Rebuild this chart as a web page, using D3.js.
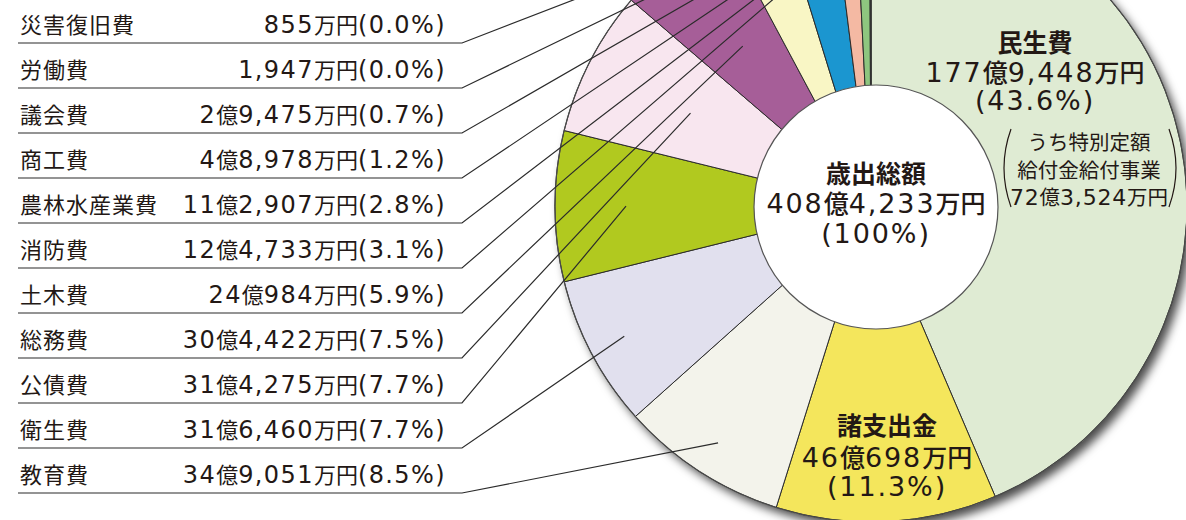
<!DOCTYPE html>
<html>
<head>
<meta charset="utf-8">
<script src="https://cdn.jsdelivr.net/npm/d3@7"></script>
<style>
html, body { margin: 0; padding: 0; background: #fff; }
svg { display: block; }
</style>
</head>
<body>
<svg id="chart" width="1186" height="520"></svg>
<script>
// 歳出決算額（単位：万円）、時計回りの順
const categories = ["民生費", "諸支出金", "教育費", "衛生費", "公債費", "総務費", "土木費",
  "消防費", "農林水産業費", "商工費", "議会費", "労働費", "災害復旧費"];
const amounts = [1779448, 460698, 349051, 316460, 314275, 304422, 240984,
  124733, 112907, 48978, 29475, 1947, 855];

// 民生費のうち特別定額給付金給付事業
const subNote = ["うち特別定額", "給付金給付事業"];
const subAmount = 723524;

const centerTitle = "歳出総額";

// 左側の一覧（上から）
const listOrder = ["災害復旧費", "労働費", "議会費", "商工費", "農林水産業費", "消防費",
  "土木費", "総務費", "公債費", "衛生費", "教育費"];

// 見た目
const palette = ["#dfebd3", "#f4e65c", "#f3f3eb", "#e1e0ee", "#b1c91f", "#f8e6ef", "#a65e98",
  "#f9f6c5", "#1b96d0", "#f4b9a3", "#8ec67f", "#e5e5e5", "#ffffff"];
// 引出線の先端の半径（listOrder 順）
const leaderRadius = [321, 316, 304, 287, 260, 232, 205, 203, 245, 279, 282];

const cx = 871, cy = 206, R = 316;
const holeX = 876, holeY = 207, holeR = 122;
const ink = "#231815";
const jp = '"Noto Sans CJK JP", "Noto Sans", sans-serif';
const num = '"DejaVu Sans", sans-serif';

const total = d3.sum(amounts);
const fmtComma = d3.format(",");
const fmtPct = d3.format(".1f");
function yen(v) {
  const oku = Math.floor(v / 10000), man = v % 10000;
  return (oku ? oku + "億" : "") + fmtComma(man) + "万円";
}
function pct(v) { return "(" + fmtPct(v / total * 100) + "%)"; }

const svg = d3.select("#chart");
const defs = svg.append("defs");
const shadow = defs.append("filter").attr("id", "shadow")
  .attr("x", "-20%").attr("y", "-20%").attr("width", "140%").attr("height", "140%");
shadow.append("feDropShadow").attr("dx", 5).attr("dy", 6)
  .attr("stdDeviation", 5).attr("flood-color", "#000").attr("flood-opacity", 0.7);

// 文字列を漢字部分と数字部分に分けて描く
function rich(sel, str, o) {
  const t = sel.append("text")
    .attr("x", o.x).attr("y", o.y)
    .attr("text-anchor", o.anchor || "middle")
    .attr("fill", ink)
    .attr("font-family", jp)
    .attr("font-size", o.size)
    .attr("font-weight", o.weight || 400);
  str.split(/([0-9.,%()]+)/).filter(s => s.length).forEach(s => {
    const ts = t.append("tspan").text(s);
    if (/^[0-9.,%()]+$/.test(s)) {
      ts.attr("font-family", num).attr("font-size", o.numSize)
        .attr("letter-spacing", o.ls).attr("font-weight", 400);
    }
  });
  return t;
}

const color = d3.scaleOrdinal().domain(categories).range(palette);
const pie = d3.pie().sort(null).value(d => d).startAngle(0).endAngle(2 * Math.PI);
const arcs = pie(amounts);
const arc = d3.arc().innerRadius(0).outerRadius(R);

const g = svg.append("g").attr("transform", `translate(${cx},${cy})`);

g.append("circle").attr("r", R).attr("fill", "#dfebd3").attr("filter", "url(#shadow)");

g.selectAll("path.slice")
  .data(arcs)
  .join("path")
  .attr("class", "slice")
  .attr("d", arc)
  .attr("fill", (d, i) => color(categories[i]))
  .attr("stroke", "#2b2b2b")
  .attr("stroke-width", 1)
  .attr("stroke-linejoin", "round");

g.append("circle").attr("r", R).attr("fill", "none")
  .attr("stroke", "#4a4a4a").attr("stroke-width", 1.2);

// 左の一覧と引出線
const rowY = d3.scalePoint().domain(listOrder).range([43, 493]);
const lineX0 = 18, lineX1 = 462, valueX = 446;

listOrder.forEach((name, k) => {
  const i = categories.indexOf(name);
  const a = arcs[i];
  const mid = (a.startAngle + a.endAngle) / 2;
  const r = leaderRadius[k];
  const ex = cx + r * Math.sin(mid), ey = cy - r * Math.cos(mid);
  const yu = rowY(name);

  svg.append("path")
    .attr("d", d3.line()([[lineX0, yu], [lineX1, yu], [ex, ey]]))
    .attr("fill", "none")
    .attr("stroke", "#2b2b2b")
    .attr("stroke-width", 1.2);

  svg.append("text")
    .attr("x", 20).attr("y", yu - 10)
    .attr("fill", ink)
    .attr("font-family", jp)
    .attr("font-size", 22)
    .attr("letter-spacing", 1)
    .text(name);

  rich(svg, yen(amounts[i]) + pct(amounts[i]), {
    x: valueX, y: yu - 10, anchor: "end", size: 22, numSize: 24, ls: 1.4
  });
});

// 中央の白円
svg.append("circle")
  .attr("cx", holeX).attr("cy", holeY).attr("r", holeR)
  .attr("fill", "#fff").attr("stroke", "#555").attr("stroke-width", 1.2);

const big = { size: 25, numSize: 27, ls: 1.9, weight: 500 };

svg.append("text").attr("x", holeX).attr("y", 183).attr("text-anchor", "middle")
  .attr("fill", ink).attr("font-family", jp).attr("font-size", 25).attr("font-weight", 700)
  .text(centerTitle);
rich(svg, yen(total), Object.assign({ x: holeX, y: 213 }, big));
rich(svg, "(" + fmtPct(100).replace(".0", "") + "%)", Object.assign({ x: holeX, y: 243 }, big));

// 民生費
const mx = cx + 164;
svg.append("text").attr("x", mx).attr("y", cy - 154).attr("text-anchor", "middle")
  .attr("fill", ink).attr("font-family", jp).attr("font-size", 25).attr("font-weight", 700)
  .text(categories[0]);
rich(svg, yen(amounts[0]), Object.assign({ x: mx, y: cy - 124 }, big));
rich(svg, pct(amounts[0]), Object.assign({ x: mx, y: cy - 96 }, big));

// うち特別定額給付金給付事業
const sx = cx + 218;
subNote.forEach((s, j) => {
  svg.append("text").attr("x", sx).attr("y", cy - 56 + j * 28).attr("text-anchor", "middle")
    .attr("fill", ink).attr("font-family", jp).attr("font-size", 20.5)
    .text(s);
});
rich(svg, yen(subAmount), { x: sx, y: cy - 1, size: 20.5, numSize: 22, ls: 0.8 });

const bTop = cy - 77, bBot = cy + 1, bMid = (bTop + bBot) / 2;
[[-78, -85], [80, 87]].forEach(([e, m]) => {
  svg.append("path")
    .attr("d", `M${sx + e},${bTop} Q${sx + m + (m - e)},${bMid} ${sx + e},${bBot}`)
    .attr("fill", "none").attr("stroke", ink).attr("stroke-width", 1.2);
});

// 諸支出金
const ox = cx + 16;
svg.append("text").attr("x", ox).attr("y", cy + 229).attr("text-anchor", "middle")
  .attr("fill", ink).attr("font-family", jp).attr("font-size", 25).attr("font-weight", 700)
  .text(categories[1]);
rich(svg, yen(amounts[1]), Object.assign({ x: ox, y: cy + 261 }, big));
rich(svg, pct(amounts[1]), Object.assign({ x: ox, y: cy + 290 }, big));
</script>
</body>
</html>
